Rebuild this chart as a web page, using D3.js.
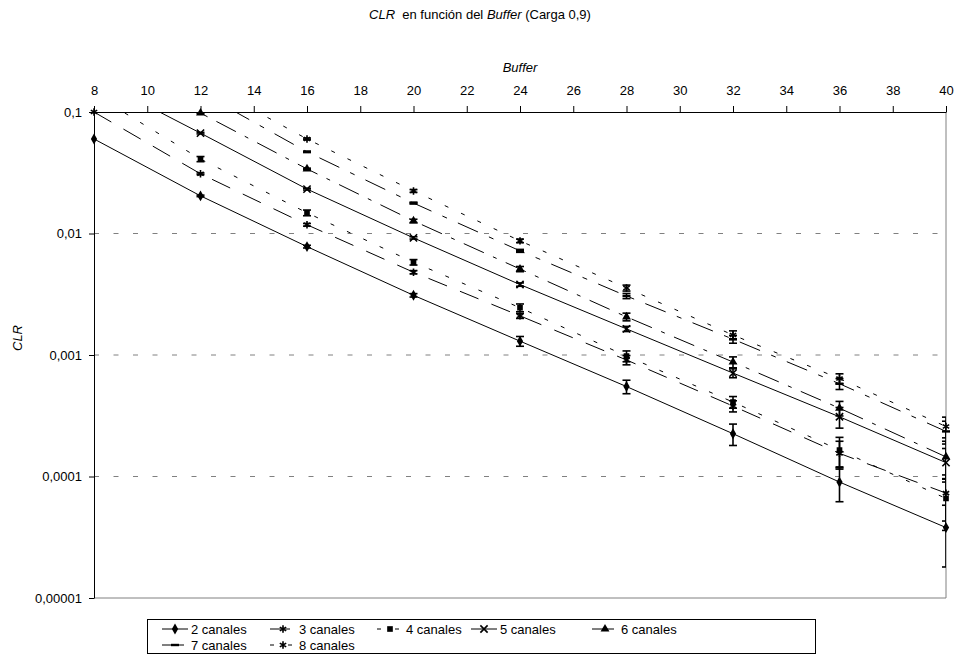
<!DOCTYPE html>
<html><head><meta charset="utf-8">
<script src="https://cdn.jsdelivr.net/npm/d3@7"></script>
<style>
body{margin:0;background:#fff}
svg{display:block}
text{font-family:"Liberation Sans",Arial,sans-serif;fill:#000}
</style>
</head><body>
<svg id="c" width="959" height="664"></svg>
<script>
// ---------- data ----------
const buffers = [8, 12, 16, 20, 24, 28, 32, 36, 40];
const xTickValues = [8, 10, 12, 14, 16, 18, 20, 22, 24, 26, 28, 30, 32, 34, 36, 38, 40];
const yTickValues = [0.1, 0.01, 0.001, 0.0001, 0.00001];
const yTickLabels = ["0,1", "0,01", "0,001", "0,0001", "0,00001"];
const gridValues = [0.01, 0.001, 0.0001];
const seriesNames = ["2 canales", "3 canales", "4 canales", "5 canales", "6 canales", "7 canales", "8 canales"];

const clr2 = [0.06, 0.0204, 0.0078, 0.0031, 0.0013, 0.00055, 0.000225, 0.00009, 0.000038];
const clr3 = [0.1, 0.031, 0.0118, 0.0048, 0.0021, 0.00091, 0.00038, 0.000155, 0.000073];
const clr4 = [0.14, 0.041, 0.0148, 0.0058, 0.00245, 0.00098, 0.00041, 0.000165, 0.000066];
const clr5 = [0.19, 0.067, 0.0232, 0.0092, 0.0038, 0.00164, 0.00071, 0.00031, 0.00013];
const clr6 = [0.28, 0.098, 0.034, 0.0127, 0.0051, 0.00206, 0.000875, 0.000365, 0.000145];
const clr7 = [0.4, 0.145, 0.047, 0.0178, 0.0072, 0.00306, 0.00135, 0.00058, 0.000235];
const clr8 = [0.55, 0.18, 0.06, 0.0224, 0.0087, 0.00356, 0.00146, 0.00064, 0.000258];

const err2 = [0, 0.0003, 0.0002, 0.0001, 0.00012, 0.00007, 0.000045, 0.000028, 0.00002];
const err3 = [0, 0.0005, 0.0003, 0.00015, 0.0001, 0.00008, 0.00004, 0.00004, 0.00003];
const err4 = [0, 0.002, 0.0008, 0.0003, 0.00018, 0.0001, 0.000045, 0.000045, 0.00003];
const err5 = [0, 0.001, 0.0004, 0.0002, 0.00012, 0.00008, 0.00006, 0.00006, 0.00004];
const err6 = [0, 0.001, 0.0005, 0.0004, 0.00025, 0.00015, 0.00009, 0.00005, 0.00005];
const err7 = [0, 0, 0.0006, 0.0003, 0.0002, 0.00015, 0.0001, 0.00006, 0.00005];
const err8 = [0, 0, 0.001, 0.0006, 0.0003, 0.0002, 0.00012, 0.00006, 0.00005];

// ---------- styles ----------
const allValues = [clr2, clr3, clr4, clr5, clr6, clr7, clr8];
const allErrors = [err2, err3, err4, err5, err6, err7, err8];
const dashes = [null, "20,14", "4,14", null, "22,10,4,10", "22,12,5,12", "4,14"];
const markers = ["diamond", "asterisk", "square", "times", "triangle", "dash", "asterisk"];

const svg = d3.select("#c");
const L = 94, R = 946, T = 112, B = 598;
const x = d3.scaleLinear().domain([8, 40]).range([L, R]);
const y = d3.scaleLog().domain([1e-5, 0.1]).range([B, T]);

svg.append("defs").append("clipPath").attr("id", "plotclip")
  .append("rect").attr("x", L).attr("y", T).attr("width", R - L).attr("height", B - T);

// title
const title = svg.append("text").attr("x", 480).attr("y", 19).attr("text-anchor", "middle").style("font-size", "13px");
title.append("tspan").style("font-style", "italic").text("CLR");
title.append("tspan").text("\u00a0 en función del ");
title.append("tspan").style("font-style", "italic").text("Buffer");
title.append("tspan").text(" (Carga 0,9)");

// grid
svg.append("g").selectAll("line").data(gridValues).join("line")
  .attr("x1", L).attr("x2", R).attr("y1", d => y(d)).attr("y2", d => y(d))
  .attr("stroke", "#808080").attr("stroke-width", 1).attr("stroke-dasharray", "5,14.5");

// plot border (right, bottom)
svg.append("line").attr("x1", R).attr("x2", R).attr("y1", T).attr("y2", B).attr("stroke", "#808080");
svg.append("line").attr("x1", L).attr("x2", R).attr("y1", B).attr("y2", B).attr("stroke", "#808080");

// series
const series = seriesNames.map((name, i) => ({
  name, dash: dashes[i], marker: markers[i],
  pts: buffers.map((b, j) => ({ b, v: allValues[i][j], e: allErrors[i][j] }))
}));

const line = d3.line().x(d => x(d.b)).y(d => y(d.v));
const gLines = svg.append("g").attr("clip-path", "url(#plotclip)");
series.forEach(s => {
  gLines.append("path").attr("d", line(s.pts)).attr("fill", "none")
    .attr("stroke", "#000").attr("stroke-width", 1)
    .attr("stroke-dasharray", s.dash);
});

// error bars
const gErr = svg.append("g").attr("clip-path", "url(#plotclip)");
series.forEach(s => {
  s.pts.filter(p => p.e > 0 && p.v <= 0.1).forEach(p => {
    const hi = y(p.v + p.e);
    const lo = p.v - p.e > 1e-7 ? y(p.v - p.e) : B + 10;
    const cx = x(p.b);
    gErr.append("line").attr("x1", cx).attr("x2", cx).attr("y1", hi).attr("y2", lo)
      .attr("stroke", "#000").attr("stroke-width", 1.6);
    [hi, lo].forEach(yy => gErr.append("line").attr("x1", cx - 4).attr("x2", cx + 4)
      .attr("y1", yy).attr("y2", yy).attr("stroke", "#000").attr("stroke-width", 1.6));
  });
});

// markers
function drawMarker(g, type, cx, cy) {
  const t = `translate(${cx},${cy})`;
  if (type === "dash") {
    g.append("rect").attr("x", cx - 4).attr("y", cy - 1.2).attr("width", 8).attr("height", 2.4).attr("fill", "#000");
    return;
  }
  const map = {
    diamond: [d3.symbolDiamond, 34, true], square: [d3.symbolSquare, 32, true],
    triangle: [d3.symbolTriangle, 34, true], times: [d3.symbolTimes, 36, false],
    asterisk: [d3.symbolAsterisk, 38, false]
  };
  const [sym, size, filled] = map[type];
  const p = g.append("path").attr("d", d3.symbol(sym, size)()).attr("transform", t);
  if (filled) p.attr("fill", "#000");
  else p.attr("fill", "none").attr("stroke", "#000").attr("stroke-width", 1.6);
}
const gMk = svg.append("g");
series.forEach(s => {
  s.pts.filter(p => p.v <= 0.1).forEach(p => drawMarker(gMk, s.marker, x(p.b), y(p.v)));
});

// axes
const xAxis = svg.append("g").attr("transform", `translate(0,${T})`)
  .call(d3.axisTop(x).tickValues(xTickValues).tickSize(6).tickSizeOuter(0).tickPadding(11).tickFormat(d => d));
const yAxis = svg.append("g").attr("transform", `translate(${L},0)`)
  .call(d3.axisLeft(y).tickValues(yTickValues).tickSize(5).tickSizeOuter(0).tickPadding(7)
    .tickFormat(d => yTickLabels[yTickValues.indexOf(d)]));
[xAxis, yAxis].forEach(a => {
  a.selectAll("text").style("font-size", "13px").style("font-family", '"Liberation Sans",Arial,sans-serif').attr("fill", "#000");
  a.selectAll("line").attr("stroke", "#000");
  a.select(".domain").attr("stroke", "#000");
});

svg.append("text").attr("x", 520).attr("y", 72).attr("text-anchor", "middle")
  .style("font-size", "13px").style("font-style", "italic").text("Buffer");
svg.append("text").attr("transform", "translate(22,338) rotate(-90)").attr("text-anchor", "middle")
  .style("font-size", "13px").style("font-style", "italic").text("CLR");

// legend
const legend = svg.append("g");
legend.append("rect").attr("x", 147.5).attr("y", 619.5).attr("width", 668).attr("height", 34)
  .attr("fill", "#fff").attr("stroke", "#000");
const legendTextX = [191, 299, 406, 500, 621];
const legendRowY = [629, 645];
series.forEach((s, i) => {
  const col = i % 5, row = Math.floor(i / 5);
  const tx = legendTextX[col], cy = legendRowY[row];
  legend.append("line").attr("x1", tx - 29).attr("x2", tx - 3).attr("y1", cy).attr("y2", cy)
    .attr("stroke", "#000").attr("stroke-dasharray", s.dash);
  drawMarker(legend, s.marker, tx - 16, cy);
  legend.append("text").attr("x", tx).attr("y", cy + 4.5).style("font-size", "13px").text(s.name);
});
</script>
</body></html>
